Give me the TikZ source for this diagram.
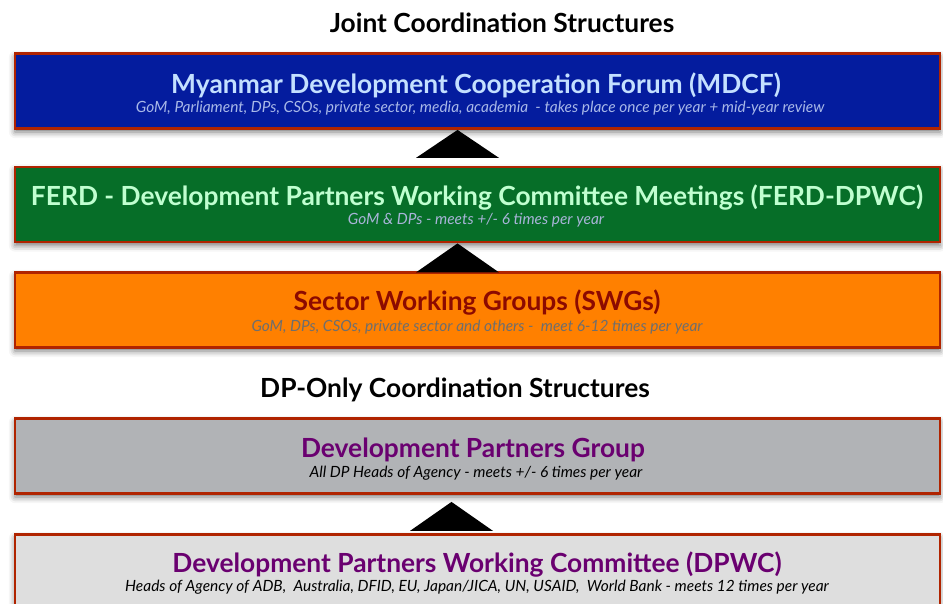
\documentclass[tikz,border=0pt]{standalone}
\usepackage{fontspec}
\setmainfont{Lato}
\usetikzlibrary{shadows.blur}

\definecolor{framered}{RGB}{176,36,0}
\definecolor{forumblue}{RGB}{4,28,158}
\definecolor{forumtext}{RGB}{196,224,255}
\definecolor{forumsub}{RGB}{168,184,232}
\definecolor{ferdgreen}{RGB}{6,110,40}
\definecolor{ferdtext}{RGB}{192,255,208}
\definecolor{ferdsub}{RGB}{168,180,216}
\definecolor{swgorange}{RGB}{255,128,0}
\definecolor{swgtext}{RGB}{140,10,0}
\definecolor{swgsub}{RGB}{110,110,110}
\definecolor{dpggray}{RGB}{177,179,182}
\definecolor{dpwcgray}{RGB}{222,222,222}
\definecolor{dppurple}{RGB}{106,0,112}

\begin{document}
\begin{tikzpicture}[x=0.02cm, y=-0.02cm,
    levelbox/.style={draw=framered, line width=1.6pt, minimum width=18.5cm, minimum height=1.5cm,
        blur shadow={shadow xshift=0pt, shadow yshift=-2pt, shadow blur radius=3.5pt, shadow opacity=55}},
    headtext/.style={font=\bfseries\fontsize{15}{17}\selectfont},
    subtext/.style={font=\itshape\fontsize{8.8}{10}\selectfont},
    sectiontext/.style={font=\bfseries\fontsize{15}{17}\selectfont},
    raise/.style={fill=black}
]
    \useasboundingbox (0,0) rectangle (943,603);
    \clip (0,0) rectangle (943,603);

    \node[sectiontext] (joint) at (502,23) {Joint Coordination Structures};

    \node[levelbox, fill=forumblue] (mdcf) at (477.5,91) {};
    \node[headtext, text=forumtext] (mdcftitle) at (476,85) {Myanmar Development Cooperation Forum (MDCF)};
    \node[subtext, text=forumsub] (mdcfsub) at (480,108) {GoM, Parliament, DPs, CSOs, private sector, media, academia \ - takes place once per year + mid-year review};

    \node[levelbox, fill=ferdgreen] (ferd) at (477.5,204.5) {};
    \node[headtext, text=ferdtext] (ferdtitle) at (477,198) {FERD - Development Partners Working Committee Meetings (FERD-DPWC)};
    \node[subtext, text=ferdsub] (ferdsub) at (476,220) {GoM \& DPs - meets +/- 6 times per year};

    \node[levelbox, fill=swgorange] (swg) at (477.5,310) {};
    \node[headtext, text=swgtext] (swgtitle) at (477,303) {Sector Working Groups (SWGs)};
    \node[subtext, text=swgsub] (swgsub) at (477,327) {GoM, DPs, CSOs, private sector and others - \ meet 6-12 times per year};

    \node[sectiontext] (dponly) at (455,390) {DP-Only Coordination Structures};

    \node[levelbox, fill=dpggray] (dpg) at (477.5,456) {};
    \node[headtext, text=dppurple] (dpgtitle) at (473,450) {Development Partners Group};
    \node[subtext, text=black] (dpgsub) at (476,473) {All DP Heads of Agency - meets +/- 6 times per year};

    \node[levelbox, fill=dpwcgray] (dpwc) at (477.5,572) {};
    \node[headtext, text=dppurple] (dpwctitle) at (477,565) {Development Partners Working Committee (DPWC)};
    \node[subtext, text=black] (dpwcsub) at (477,587) {Heads of Agency of ADB, \ Australia, DFID, EU, Japan/JICA, UN, USAID, \ World Bank - meets 12 times per year};

    % upward triangles
    \fill[raise] ([xshift=-0.4cm]mdcf.south) -- ++(-41.5,28) -- ++(83,0) -- cycle;
    \fill[raise] ([xshift=-0.4cm]ferd.south) -- ++(-41.5,29) -- ++(83,0) -- cycle;
    \fill[raise] ([xshift=-0.52cm,yshift=-0.14cm]dpg.south) -- ++(-41.5,29) -- ++(83,0) -- cycle;
\end{tikzpicture}
\end{document}
